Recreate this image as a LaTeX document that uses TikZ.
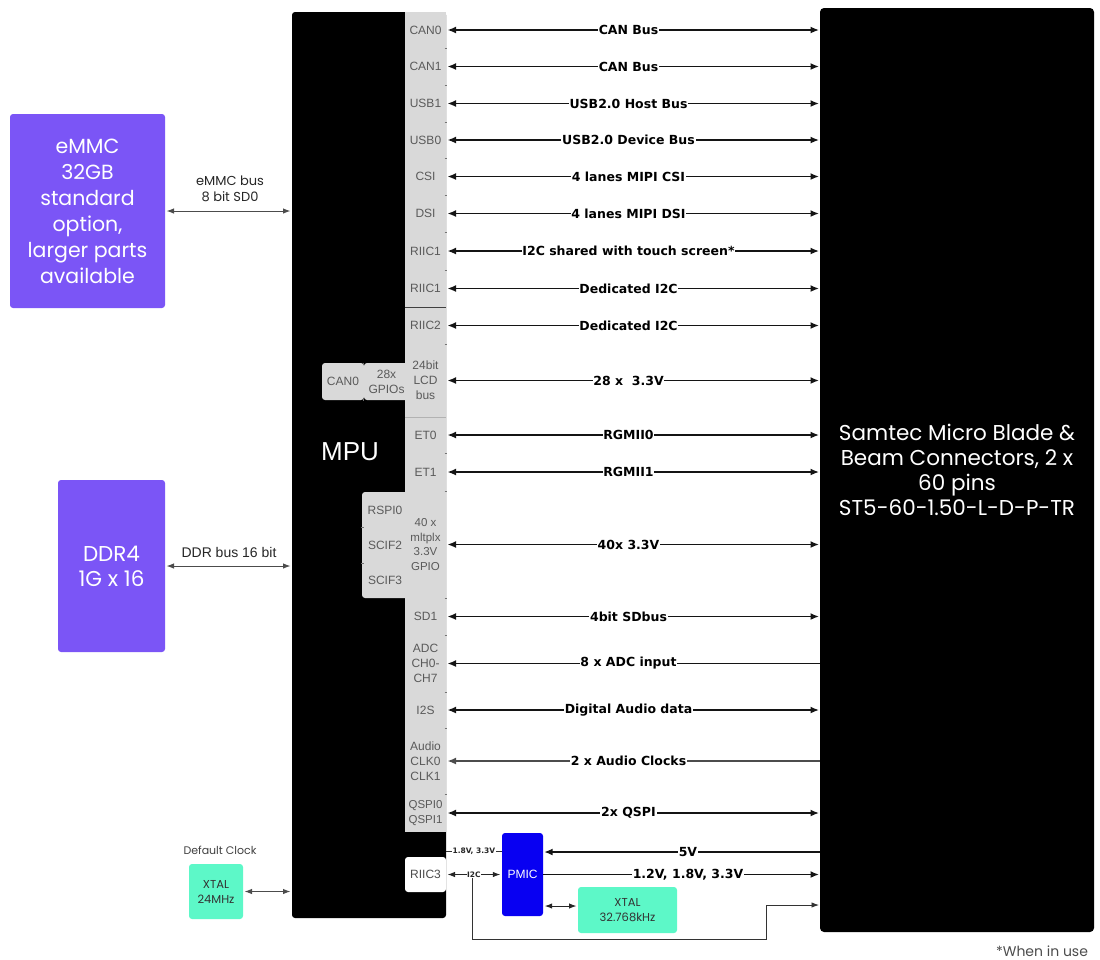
\documentclass[tikz,border=0pt]{standalone}
\usepackage{fontspec}
\setmainfont{Liberation Sans}
\newfontfamily\pinf{Liberation Sans}
\newfontfamily\busf{DejaVu Sans}
\newfontfamily\wsf{Poppins}
\usetikzlibrary{arrows.meta,calc}
\definecolor{mpurple}{HTML}{7B55F6}
\definecolor{aqua}{HTML}{5DF8C8}
\definecolor{pmicblue}{HTML}{0800F2}
\definecolor{pingray}{HTML}{D9D9D9}
\definecolor{pintext}{HTML}{5A5A5A}
\tikzset{
  bus/.style={line width=1.5pt, draw=black!92, {Latex[length=8.5pt,width=7pt]}-{Latex[length=8.5pt,width=7pt]}, shorten <=1.5pt, shorten >=1pt},
  busL/.style={line width=1.5pt, draw=black!92, {Latex[length=8.5pt,width=7pt]}-, shorten <=1.5pt},
  busG/.style={line width=1.5pt, draw=black!70, {Latex[length=8.5pt,width=7pt]}-, shorten <=1.5pt},
  busR/.style={line width=1.5pt, draw=black!92, -{Latex[length=8.5pt,width=7pt]}, shorten >=1pt},
  buslbl/.style={fill=white, inner sep=0.8pt, font=\busf\bfseries\fontsize{12.5}{14}\selectfont, text=black, pos=0.488},
  tinylbl/.style={fill=white, inner sep=0.3pt, font=\busf\bfseries\fontsize{7.5}{8}\selectfont, text=black!85},
  sidebus/.style={line width=1pt, draw=black!70, {Latex[length=7.5pt,width=5.5pt]}-{Latex[length=7.5pt,width=5.5pt]}, shorten <=1.5pt, shorten >=1.5pt},
  pin/.style={fill=pingray, minimum width=41pt, inner sep=0pt, outer sep=0pt, text=pintext, align=center, font=\pinf\fontsize{12}{15}\selectfont},
  purplebox/.style={fill=mpurple, rounded corners=3pt, text=white, align=center, inner sep=0pt, outer sep=0pt},
  aquabox/.style={fill=aqua, rounded corners=3pt, text=black!80, align=center, inner sep=0pt, outer sep=0pt, font=\wsf\fontsize{11.5}{15}\selectfont},
  blackbox/.style={fill=black, rounded corners=3pt, inner sep=0pt, outer sep=0pt},
  tick/.style={draw=black!55, line width=0.9pt},
}
\begin{document}
\begin{tikzpicture}[x=1pt,y=-1pt]
\useasboundingbox (0,0) rectangle (1100,959);

% memories
\node[purplebox, minimum width=155pt, minimum height=194pt, font=\wsf\fontsize{20.5}{26}\selectfont] (emmc) at (87.5,211) {eMMC\\32GB\\standard\\option,\\larger parts\\available};
\node[purplebox, minimum width=107pt, minimum height=172pt, font=\wsf\fontsize{21.5}{25}\selectfont] (ddr) at (111.5,566) {DDR4\\1G x 16};

% MPU
\node[blackbox, minimum width=154pt, minimum height=906pt] (mpu) at (369,465) {};
\node[text=white, font=\pinf\fontsize{26}{28}\selectfont] (mputxt) at (350,452) {MPU};

% Samtec
\node[blackbox, rounded corners=4pt, minimum width=274pt, minimum height=924pt, text=white, align=center, font=\wsf\fontsize{21.5}{25}\selectfont] (samtec) at (957,470) {Samtec Micro Blade \&\\Beam Connectors, 2 x\\60 pins\\ST5-60-1.50-L-D-P-TR};

% side blocks (drawn before the pin column)
\node[pin, minimum width=42pt, minimum height=37pt, rounded corners=3pt] (can0b) at (343,381.5) {CAN0};
\node[pin, minimum width=45pt, minimum height=37pt, rounded corners=3pt, text width=40pt] (gpio28) at (386.5,381.5) {28x\\GPIOs};
\node[pin, minimum width=46pt, minimum height=106pt, rounded corners=3pt, text width=40pt, font=\pinf\fontsize{12}{35}\selectfont] (rspi) at (385,545) {RSPI0\\SCIF2\\SCIF3};

% pins
\node[pin, minimum height=36pt] (p1) at (425.5,30) {CAN0};
\node[pin, minimum height=37pt] (p2) at (425.5,66.5) {CAN1};
\node[pin, minimum height=37pt] (p3) at (425.5,103.5) {USB1};
\node[pin, minimum height=36pt] (p4) at (425.5,140) {USB0};
\node[pin, minimum height=37pt] (p5) at (425.5,176.5) {CSI};
\node[pin, minimum height=37pt] (p6) at (425.5,213.5) {DSI};
\node[pin, minimum height=38pt] (p7) at (425.5,251) {RIIC1};
\node[pin, minimum height=37pt] (p8) at (425.5,288.5) {RIIC1};
\node[pin, minimum height=37pt] (p9) at (425.5,325.5) {RIIC2};
\node[pin, minimum height=73pt] (p10) at (425.5,380.5) {24bit\\LCD\\bus};
\node[pin, minimum height=36pt] (p11) at (425.5,435) {ET0};
\node[pin, minimum height=38pt] (p12) at (425.5,472) {ET1};
\node[pin, minimum height=107pt, font=\pinf\fontsize{11.5}{14.5}\selectfont] (p13) at (425.5,544.5) {40 x\\mltplx\\3.3V\\GPIO};
\node[pin, minimum height=37pt] (p14) at (425.5,616.5) {SD1};
\node[pin, minimum height=57pt] (p15) at (425.5,663.5) {ADC\\CH0-\\CH7};
\node[pin, minimum height=36pt] (p16) at (425.5,710) {I2S};
\node[pin, minimum height=66pt] (p17) at (425.5,761) {Audio\\CLK0\\CLK1};
\node[pin, minimum height=38pt, font=\pinf\fontsize{11.5}{15}\selectfont] (p18) at (425.5,813) {QSPI0\\QSPI1};

% separators
\draw[draw=black!75, line width=0.9pt] (p8.south west) -- (p8.south east);
\draw[draw=black!30, line width=0.9pt] (p10.south west) -- (p10.south east);
\foreach \yy in {48,85,122,158,195,232,270,344,453,491,598,635,692,728,794}
  \draw[tick] (444.5,\yy) -- (446.8,\yy);
\foreach \yy in {527,563}
  \draw[tick] (361,\yy) -- (363.5,\yy);
\draw[tick] (363.5,362.5) -- (363.5,364.5);
\draw[tick] (363.5,398.5) -- (363.5,400.5);

% buses
\draw[bus] (p1.east) -- node[buslbl] {CAN Bus} (samtec.west |- p1.east);
\draw[bus] (p2.east) -- node[buslbl] {CAN Bus} (samtec.west |- p2.east);
\draw[bus] (p3.east) -- node[buslbl] {USB2.0 Host Bus} (samtec.west |- p3.east);
\draw[bus] (p4.east) -- node[buslbl] {USB2.0 Device Bus} (samtec.west |- p4.east);
\draw[bus] (p5.east) -- node[buslbl] {4 lanes MIPI CSI} (samtec.west |- p5.east);
\draw[bus] (p6.east) -- node[buslbl] {4 lanes MIPI DSI} (samtec.west |- p6.east);
\draw[bus] (p7.east) -- node[buslbl] {I2C shared with touch screen*} (samtec.west |- p7.east);
\draw[bus] (p8.east) -- node[buslbl] {Dedicated I2C} (samtec.west |- p8.east);
\draw[bus] (p9.east) -- node[buslbl] {Dedicated I2C} (samtec.west |- p9.east);
\draw[bus] (p10.east) -- node[buslbl] {28 x\ \ 3.3V} (samtec.west |- p10.east);
\draw[bus] (p11.east) -- node[buslbl] {RGMII0} (samtec.west |- p11.east);
\draw[bus] (p12.east) -- node[buslbl] {RGMII1} (samtec.west |- p12.east);
\draw[bus] (p13.east) -- node[buslbl] {40x 3.3V} (samtec.west |- p13.east);
\draw[bus] (p14.east) -- node[buslbl] {4bit SDbus} (samtec.west |- p14.east);
\draw[busL] (p15.east) -- node[buslbl] {8 x ADC input} (samtec.west |- p15.east);
\draw[bus] (p16.east) -- node[buslbl] {Digital Audio data} (samtec.west |- p16.east);
\draw[busG] (p17.east) -- node[buslbl] {2 x Audio Clocks} (samtec.west |- p17.east);
\draw[bus] (p18.east) -- node[buslbl] {2x QSPI} (samtec.west |- p18.east);

% memory buses
\draw[sidebus] (emmc.east) -- (mpu.west |- emmc.east);
\node[font=\wsf\fontsize{13}{16}\selectfont, align=center, text=black!85] (emmclbl) at (230,188.5) {eMMC bus\\8 bit SD0};
\draw[sidebus] (ddr.east) -- (mpu.west |- ddr.east);
\node[font=\pinf\fontsize{14}{16}\selectfont, text=black!85] (ddrlbl) at (229,552) {DDR bus 16 bit};

% clock
\node[aquabox, minimum width=54pt, minimum height=55pt] (x24) at (216,891.5) {XTAL\\24MHz};
\node[font=\wsf\fontsize{11}{12}\selectfont, text=black!75] (dclk) at (220,850) {Default Clock};
\draw[sidebus] (x24.east) -- (mpu.west |- x24.east);

% power section
\node[pin, fill=white, minimum height=35pt, rounded corners=3pt, text=black!70] (riic3) at (425.5,874.5) {RIIC3};
\node[fill=pmicblue, rounded corners=3pt, minimum width=41pt, minimum height=83pt, inner sep=0pt, text=white, font=\pinf\fontsize{12}{13}\selectfont] (pmic) at (522.5,874.5) {PMIC};
\node[aquabox, minimum width=99pt, minimum height=46pt] (x32) at (627.5,910) {XTAL\\32.768kHz};
\node[font=\wsf\fontsize{14}{16}\selectfont, text=black!70] (wiu) at (1042,951) {*When in use};

\coordinate (r18) at (0,851);
\coordinate (r5v) at (0,852);
\coordinate (rx) at (0,906);
\coordinate (i2cj) at (472,874.5);
\coordinate (b1) at (766,939);
\coordinate (b2) at (766,905);

\draw[draw=black!80, line width=0.9pt] (i2cj) |- (b1) -- (b2);
\draw[draw=black!80, line width=0.9pt, -{Latex[length=7.5pt,width=5.5pt]}, shorten >=1pt] (b2) -- (samtec.west |- b2);
\draw[draw=black!80, line width=0.9pt] (mpu.east |- r18) -- node[tinylbl] {1.8V, 3.3V} (pmic.west |- r18);
\draw[sidebus, draw=black!85] (riic3.east) -- node[tinylbl] {I2C} (pmic.west |- riic3.east);
\draw[busR] (samtec.west |- r5v) -- node[buslbl, pos=0.477] {5V} (pmic.east |- r5v);
\draw[busR] (pmic.east) -- node[buslbl, pos=0.523] {1.2V, 1.8V, 3.3V} (samtec.west |- pmic.east);
\draw[sidebus, draw=black!85] (pmic.east |- rx) -- (x32.west |- rx);
\end{tikzpicture}
\end{document}
